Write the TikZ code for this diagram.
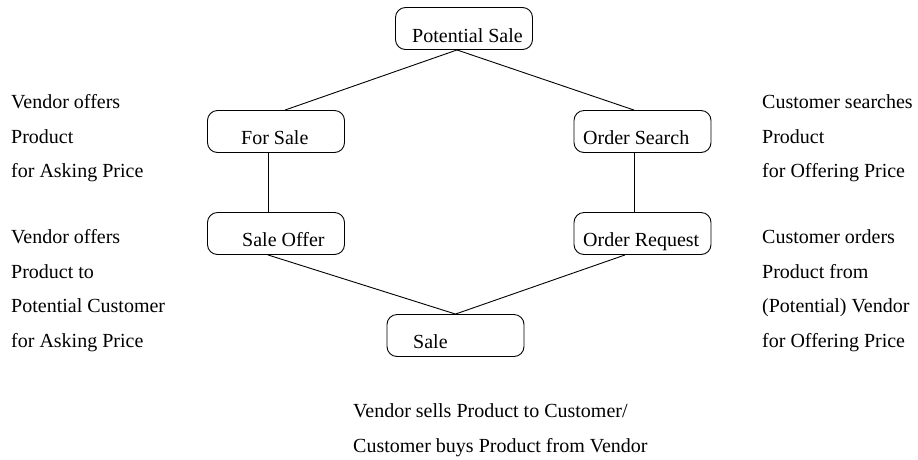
\documentclass[tikz,border=0pt]{standalone}
\usepackage{fontspec}
\setmainfont{Liberation Serif}
\begin{document}
\begin{tikzpicture}[x=1pt,y=-1pt,
  box/.style={draw, rounded corners=10pt, line width=0.9pt, minimum width=137pt, minimum height=42pt, inner sep=0pt},
  lbl/.style={anchor=base west, inner sep=0pt, font=\fontsize{20}{24}\selectfont},
  conn/.style={line width=0.9pt}]
\useasboundingbox (0,0) rectangle (918,459);
% boxes
\node[box] (ps) at (464,28.5) {};
\node[box] (fs) at (276,131.5) {};
\node[box] (os) at (642.5,131.5) {};
\node[box] (so) at (276,233.5) {};
\node[box] (or) at (642.5,233.5) {};
\node[box] (sa) at (455.5,335.5) {};
% box texts
\node[lbl] (tps) at (412,42) {Potential Sale};
\node[lbl] (tfs) at (241,144) {For Sale};
\node[lbl] (tos) at (583,144) {Order Search};
\node[lbl] (tso) at (242,246) {Sale Offer};
\node[lbl] (tor) at (583,246) {Order Request};
\node[lbl] (tsa) at (413,348) {Sale};
% connectors
\draw[conn] ([xshift=-7pt]ps.south) -- ([xshift=9pt]fs.north);
\draw[conn] ([xshift=-7pt]ps.south) -- ([xshift=-8.5pt]os.north);
\draw[conn] ([xshift=-8pt]fs.south) -- ([xshift=-8pt]so.north);
\draw[conn] ([xshift=-8.5pt]os.south) -- ([xshift=-8.5pt]or.north);
\draw[conn] ([xshift=-8pt]so.south) -- (sa.north);
\draw[conn] ([xshift=-17.5pt]or.south) -- (sa.north);
% side labels left
\node[lbl] (l1) at (11,108) {Vendor offers};
\node[lbl] (l2) at (11,143) {Product};
\node[lbl] (l3) at (11,177) {for Asking Price};
\node[lbl] (l4) at (11,243) {Vendor offers};
\node[lbl] (l5) at (11,278) {Product to};
\node[lbl] (l6) at (11,312) {Potential Customer};
\node[lbl] (l7) at (11,347) {for Asking Price};
% side labels right
\node[lbl] (r1) at (762,108) {Customer searches};
\node[lbl] (r2) at (762,143) {Product};
\node[lbl] (r3) at (762,177) {for Offering Price};
\node[lbl] (r4) at (762,243) {Customer orders};
\node[lbl] (r5) at (762,278) {Product from};
\node[lbl] (r6) at (762,312) {(Potential) Vendor};
\node[lbl] (r7) at (762,347) {for Offering Price};
% bottom
\node[lbl] (b1) at (353,417) {Vendor sells Product to Customer/};
\node[lbl] (b2) at (353,452) {Customer buys Product from Vendor};
\end{tikzpicture}
\end{document}
